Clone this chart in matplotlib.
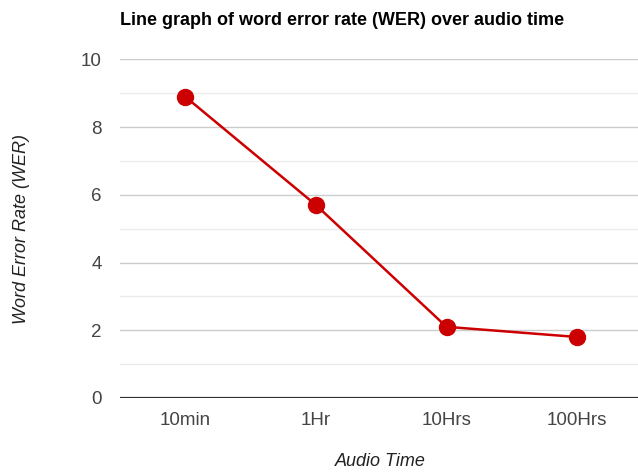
import matplotlib
matplotlib.use("Agg")
import matplotlib.pyplot as plt

# data
categories = ["10min", "1Hr", "10Hrs", "100Hrs"]
wer = [8.9, 5.7, 2.1, 1.8]
major_ticks = [0, 2, 4, 6, 8, 10]
minor_ticks = [1, 3, 5, 7, 9]

plt.rcParams["font.family"] = ["Liberation Sans", "DejaVu Sans"]

fig = plt.figure(figsize=(6.38, 4.72), dpi=100)
ax = fig.add_axes([0.188, 0.157, 0.812, 0.717])

x = list(range(len(categories)))
ax.plot(x, wer, color="#cc0000", lw=1.8, marker="o", ms=11.5, zorder=3)

ax.set_xlim(-0.5, 3.466)
ax.set_ylim(0, 10)
ax.set_xticks(x)
ax.set_xticklabels(categories)
ax.set_yticks(major_ticks)
ax.set_yticks(minor_ticks, minor=True)

for v in major_ticks[1:]:
    ax.axhline(v, color="#cccccc", lw=1.0, zorder=1)
for v in minor_ticks:
    ax.axhline(v, color="#ebebeb", lw=1.0, zorder=1)
ax.axhline(0, color="#333333", lw=1.6, zorder=2)

for s in ax.spines.values():
    s.set_visible(False)
ax.tick_params(axis="both", which="both", length=0, colors="#444444", labelsize=13.5)
ax.tick_params(axis="x", pad=10)
ax.tick_params(axis="y", pad=13)

fig.text(0.596, 0.004, "Audio Time", style="italic", fontsize=13,
         color="#222222", ha="center", va="bottom")
fig.text(0.034, 0.515, "Word Error Rate (WER)", style="italic", fontsize=13,
         color="#222222", ha="center", va="center", rotation=90)

fig.text(0.188, 0.956, "Line graph of word error rate (WER) over audio time",
         fontsize=13, fontweight="bold", ha="left", va="center", color="#000000")

fig.savefig("out.png", dpi=100)
